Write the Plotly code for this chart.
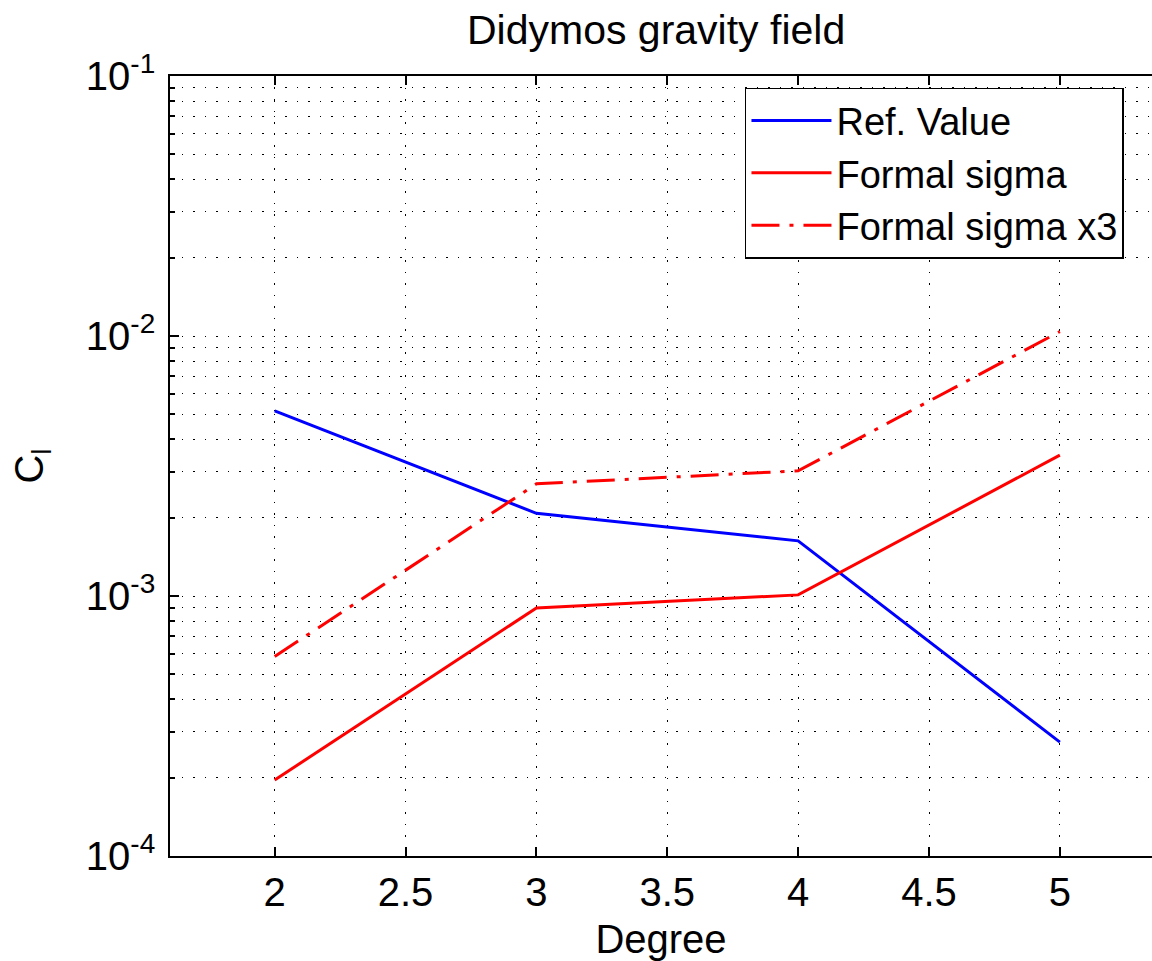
import plotly.graph_objects as go

degree = [2, 3, 4, 5]
ref_value = [5.15e-3, 2.08e-3, 1.63e-3, 2.74e-4]
formal_sigma = [1.96e-4, 9.0e-4, 1.01e-3, 3.48e-3]
formal_sigma_x3 = [5.85e-4, 2.7e-3, 3.03e-3, 1.04e-2]

x_ticks = [2, 2.5, 3, 3.5, 4, 4.5, 5]
y_ticks = [1e-4, 1e-3, 1e-2, 1e-1]
y_ticktext = ["10<sup>-4</sup>", "10<sup>-3</sup>", "10<sup>-2</sup>", "10<sup>-1</sup>"]
y_minor = [m * d for d in [1e-4, 1e-3, 1e-2] for m in range(2, 10)]

FONT = "Liberation Sans, Arial, sans-serif"

fig = go.Figure()
fig.add_trace(go.Scatter(x=degree, y=ref_value, mode="lines", name="Ref. Value",
                         line=dict(color="#0000ff", width=3)))
fig.add_trace(go.Scatter(x=degree, y=formal_sigma, mode="lines", name="Formal sigma",
                         line=dict(color="#ff0000", width=3)))
fig.add_trace(go.Scatter(x=degree, y=formal_sigma_x3, mode="lines", name="Formal sigma x3",
                         line=dict(color="#ff0000", width=3, dash="28px,10px,4px,10px")))

grid_dash = "1.5px,10px"
fig.update_layout(
    width=1152, height=961,
    margin=dict(l=170, r=0, t=76, b=105),
    paper_bgcolor="white", plot_bgcolor="white",
    font=dict(family=FONT, size=40, color="black"),
    title=dict(text="Didymos gravity field", x=0.495, xanchor="center", xref="paper",
               y=1 - 30 / 961, yanchor="middle", yref="container",
               font=dict(size=41, color="black")),
    xaxis=dict(range=[1.6, 5.352], tickvals=x_ticks, ticktext=[str(v) for v in x_ticks],
               showline=True, linecolor="black", linewidth=1.5, mirror="ticks",
               ticks="inside", ticklen=9, tickcolor="black", tickwidth=1.5,
               showgrid=True, gridcolor="black", gridwidth=1, griddash=grid_dash,
               zeroline=False,
               title=dict(text="Degree", standoff=14, font=dict(size=40)),
               tickfont=dict(size=40)),
    yaxis=dict(type="log", range=[-4, -1], tickvals=y_ticks, ticktext=y_ticktext,
               showline=True, linecolor="black", linewidth=1.5, mirror=False,
               ticks="inside", ticklen=9, tickcolor="black", tickwidth=1.5,
               ticklabelstandoff=5,
               showgrid=True, gridcolor="black", gridwidth=1, griddash=grid_dash,
               minor=dict(tickmode="array", tickvals=y_minor,
                          ticks="inside", ticklen=5, tickcolor="black", tickwidth=1.5,
                          showgrid=True, gridcolor="black", gridwidth=1, griddash=grid_dash),
               zeroline=False,
               title=dict(text="C<sub>l</sub>", standoff=30, font=dict(size=40)),
               tickfont=dict(size=40)),
    legend=dict(x=0.5855, y=0.985, xanchor="left", yanchor="top",
                bgcolor="white", bordercolor="black", borderwidth=1.5,
                itemwidth=80,
                font=dict(size=38, color="black")),
    showlegend=True,
)

fig.write_html("out.html")
